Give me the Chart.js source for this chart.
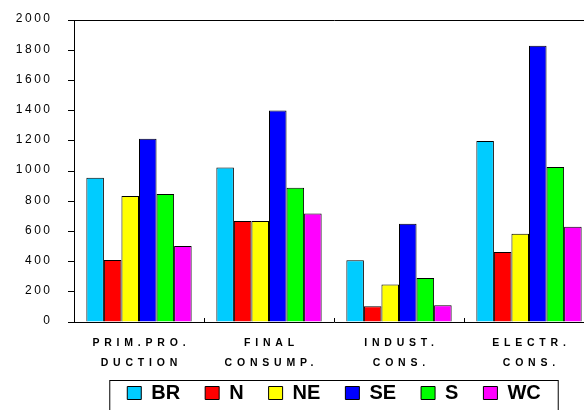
<!DOCTYPE html>
<html lang="en">
<head>
    <meta charset="UTF-8">
    <title>Energy by region</title>
    <script src="https://cdn.jsdelivr.net/npm/chart.js"></script>
    <style>
        html, body {
            margin: 0;
            padding: 0;
            overflow: hidden;
            background: #fff;
        }
        #wrap {
            width: 600px;
            height: 425px;
        }
    </style>
</head>
<body>
    <div id="wrap">
        <canvas id="regionChart" width="600" height="425"></canvas>
    </div>

    <script>
        // categories (two lines each)
        const categories = [
            ['PRIM.PRO.', 'DUCTION'],
            ['FINAL', 'CONSUMP.'],
            ['INDUST.', 'CONS.'],
            ['ELECTR.', 'CONS.']
        ];

        // values per region, in category order
        const valuesBR = [955, 1024, 409, 1198];
        const valuesN = [411, 669, 104, 464];
        const valuesNE = [835, 669, 249, 585];
        const valuesSE = [1213, 1400, 651, 1829];
        const valuesS = [847, 889, 291, 1027];
        const valuesWC = [504, 718, 111, 631];

        const yMin = 0;
        const yMax = 2000;
        const yStep = 200;

        const FONT = 'Arial, "Liberation Sans", sans-serif';

        function makeSet(label, data, color) {
            return {
                label: label,
                data: data,
                backgroundColor: color,
                borderColor: '#000',
                borderWidth: 1
            };
        }

        // tick labels are drawn here so they can get letter spacing
        const labelPlugin = {
            id: 'spacedLabels',
            afterDraw(chart) {
                const ctx = chart.ctx;
                const xs = chart.scales.x;
                const ys = chart.scales.y;
                const area = chart.chartArea;

                ctx.save();
                ctx.fillStyle = '#000';
                ctx.textBaseline = 'middle';

                // y labels
                ctx.font = '12px ' + FONT;
                ctx.letterSpacing = '2.5px';
                ctx.textAlign = 'right';
                ys.ticks.forEach(t => {
                    ctx.fillText(String(t.value), 52.5, ys.getPixelForValue(t.value) - 1);
                });

                // x labels
                ctx.font = 'bold 10.5px ' + FONT;
                ctx.letterSpacing = '4.8px';
                ctx.textAlign = 'center';
                categories.forEach((lines, i) => {
                    const x = xs.getPixelForValue(i) + 2.4;
                    lines.forEach((line, j) => {
                        ctx.fillText(line, x, area.bottom + 21 + j * 20);
                    });
                });

                // small inside ticks between categories
                ctx.strokeStyle = '#000';
                ctx.lineWidth = 1;
                ctx.beginPath();
                for (let i = 0; i < categories.length - 1; i++) {
                    const x = Math.round((xs.getPixelForValue(i) + xs.getPixelForValue(i + 1)) / 2) + 0.5;
                    ctx.moveTo(x, area.bottom);
                    ctx.lineTo(x, area.bottom - 4);
                }
                ctx.stroke();
                ctx.restore();

                // frame round the legend
                const boxes = chart.legend.legendHitBoxes;
                if (boxes && boxes.length) {
                    const first = boxes[0];
                    const last = boxes[boxes.length - 1];
                    ctx.save();
                    ctx.strokeStyle = '#000';
                    ctx.lineWidth = 1;
                    ctx.strokeRect(first.left - 17.5, Math.round(first.top) - 2.5,
                        last.left + last.width - first.left + 35, 60);
                    ctx.restore();
                }
            }
        };

        new Chart(document.getElementById('regionChart'), {
            type: 'bar',
            data: {
                labels: categories,
                datasets: [
                    makeSet('BR', valuesBR, '#00CCFF'),
                    makeSet('N', valuesN, '#FF0000'),
                    makeSet('NE', valuesNE, '#FFFF00'),
                    makeSet('SE', valuesSE, '#0000FF'),
                    makeSet('S', valuesS, '#00FF00'),
                    makeSet('WC', valuesWC, '#FF00FF')
                ]
            },
            options: {
                responsive: false,
                animation: false,
                devicePixelRatio: 1,
                layout: {
                    padding: { top: 20, right: 6, bottom: 12, left: 0 }
                },
                datasets: {
                    bar: {
                        categoryPercentage: 0.81,
                        barPercentage: 1
                    }
                },
                scales: {
                    x: {
                        afterFit(scale) { scale.height = 36; },
                        ticks: { display: false },
                        grid: {
                            offset: true,
                            drawOnChartArea: false,
                            drawTicks: false
                        },
                        border: { color: '#000', width: 1 }
                    },
                    y: {
                        min: yMin,
                        max: yMax,
                        afterFit(scale) { scale.width = 74; },
                        ticks: { display: false, stepSize: yStep },
                        grid: {
                            drawOnChartArea: true,
                            color: c => (c.tick && c.tick.value === yMax) ? '#000' : 'rgba(0,0,0,0)',
                            tickColor: '#000',
                            tickLength: 6,
                            lineWidth: 1
                        },
                        border: { color: '#000', width: 1 }
                    }
                },
                plugins: {
                    tooltip: { enabled: false },
                    title: { display: false },
                    legend: {
                        position: 'bottom',
                        fullSize: false,
                        labels: {
                            color: '#000',
                            boxWidth: 14,
                            boxHeight: 13,
                            padding: 25,
                            font: { family: FONT, size: 20, weight: 'bold' }
                        }
                    }
                }
            },
            plugins: [labelPlugin]
        });
    </script>
</body>
</html>
